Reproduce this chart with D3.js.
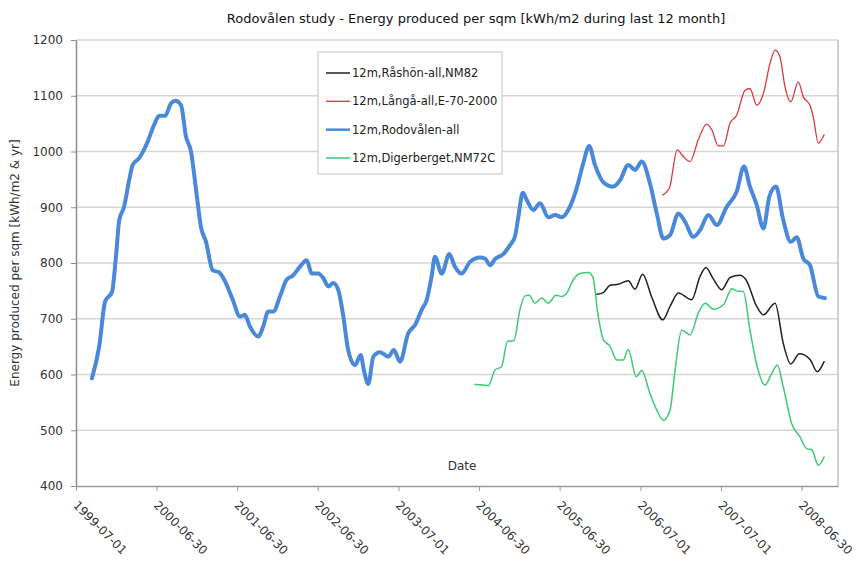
<!DOCTYPE html>
<html>
<head>
<meta charset="utf-8">
<script src="https://cdn.jsdelivr.net/npm/d3@7"></script>
<style>
  body { margin: 0; background: #fff; }
  svg { display: block; }
  text { font-family: "DejaVu Sans", Verdana, sans-serif; }
</style>
</head>
<body>
<svg id="chart" width="857" height="562"></svg>
<script>
// Rolling 12-month energy yield per square metre for four solar collector sites

const chartTitle = "Rodovålen study - Energy produced per sqm [kWh/m2 during last 12 month]";
const yTitle = "Energy produced per sqm [kWh/m2 & yr]";
const xTitle = "Date";

const xTickLabels = ["1999-07-01", "2000-06-30", "2001-06-30", "2002-06-30", "2003-07-01",
                     "2004-06-30", "2005-06-30", "2006-07-01", "2007-07-01", "2008-06-30"];
const yTickValues = [400, 500, 600, 700, 800, 900, 1000, 1100, 1200];

const seriesNames = ["12m,Råshön-all,NM82", "12m,Långå-all,E-70-2000",
                     "12m,Rodovålen-all", "12m,Digerberget,NM72C"];

// 12m,Råshön-all,NM82
const rashonDates = ["2005-12-15","2006-01-14","2006-02-13","2006-03-23","2006-05-07","2006-06-06",
  "2006-07-11","2006-08-21","2006-10-10","2006-11-12","2006-12-20","2007-02-18","2007-03-28",
  "2007-04-24","2007-05-25","2007-07-04","2007-08-11","2007-09-25","2007-10-22","2007-12-10",
  "2008-01-09","2008-03-02","2008-04-08","2008-05-12","2008-06-20","2008-08-07","2008-09-09","2008-10-10"];
const rashonValues = [744,747,760,762,768,753,780,739,698,722,746,734,776,792,773,752,774,778,770,
  722,707,728,656,619,637,627,605,623];

// 12m,Långå-all,E-70-2000
const langaDates = ["2006-10-10","2006-11-09","2006-12-15","2007-01-11","2007-02-11","2007-03-20",
  "2007-04-27","2007-05-20","2007-06-19","2007-07-12","2007-08-11","2007-09-10","2007-10-18",
  "2007-11-09","2007-12-10","2008-01-09","2008-02-08","2008-03-02","2008-03-24","2008-04-16",
  "2008-05-12","2008-06-15","2008-07-08","2008-08-07","2008-08-22","2008-09-14","2008-10-10"];
const langaValues = [922,934,1003,991,982,1021,1049,1039,1010,1010,1051,1065,1110,1113,1083,1104,
  1158,1182,1170,1116,1089,1125,1098,1083,1062,1015,1030];

// 12m,Rodovålen-all
const rodovalenDates = ["1999-09-11","1999-10-14","1999-11-10","1999-12-11","1999-12-29","2000-01-13",
  "2000-02-04","2000-02-27","2000-03-14","2000-04-12","2000-05-21","2000-06-19","2000-07-12","2000-08-08",
  "2000-09-03","2000-09-23","2000-10-19","2000-11-10","2000-12-03","2000-12-26","2001-01-17","2001-02-09",
  "2001-03-11","2001-04-10","2001-05-10","2001-06-10","2001-07-13","2001-08-04","2001-08-27","2001-10-04",
  "2001-10-26","2001-11-18","2001-12-11","2002-01-10","2002-02-09","2002-03-11","2002-04-10","2002-05-11",
  "2002-06-03","2002-07-02","2002-07-25","2002-08-17","2002-09-08","2002-10-01","2002-10-24","2002-11-15",
  "2002-12-16","2003-01-11","2003-01-25","2003-02-14","2003-03-09","2003-04-08","2003-05-16","2003-06-10",
  "2003-07-08","2003-08-14","2003-09-14","2003-10-14","2003-11-06","2003-11-28","2003-12-13","2004-01-13",
  "2004-02-16","2004-03-13","2004-04-12","2004-05-20","2004-07-04","2004-07-27","2004-08-19","2004-09-10",
  "2004-10-18","2004-11-17","2004-12-10","2004-12-25","2005-01-14","2005-02-01","2005-03-03","2005-04-02",
  "2005-05-10","2005-06-09","2005-07-10","2005-08-08","2005-09-15","2005-10-15","2005-11-11","2005-12-07",
  "2006-01-14","2006-02-28","2006-03-30","2006-05-07","2006-06-06","2006-07-07","2006-08-13","2006-09-13",
  "2006-10-13","2006-11-12","2006-12-20","2007-01-19","2007-02-26","2007-03-28","2007-05-05","2007-06-12",
  "2007-07-27","2007-09-10","2007-10-13","2007-11-09","2007-12-10","2008-01-09","2008-02-05","2008-03-06",
  "2008-04-08","2008-05-12","2008-06-08","2008-07-08","2008-08-07","2008-09-14","2008-10-14"];
const rodovalenValues = [593,650,731,748,811,877,901,949,976,988,1018,1048,1064,1064,1086,1091,1083,
  1027,1000,931,865,838,787,783,764,734,704,707,686,668,686,713,713,740,770,778,793,805,781,781,773,758,
  764,752,704,644,617,635,608,583,632,640,632,644,623,674,689,716,734,776,811,781,816,793,781,802,810,
  808,796,807,816,832,848,883,926,913,895,907,882,886,882,895,934,979,1010,976,945,937,948,976,967,982,
  943,889,844,850,889,874,847,859,886,868,901,928,973,937,904,862,919,937,877,838,846,808,796,740,737];

// 12m,Digerberget,NM72C
const digerbergetDates = ["2004-06-11","2004-07-19","2004-08-11","2004-09-10","2004-10-10","2004-11-05",
  "2004-12-05","2005-01-01","2005-01-24","2005-02-12","2005-03-10","2005-04-10","2005-05-10","2005-06-13",
  "2005-07-10","2005-08-01","2005-08-31","2005-09-30","2005-11-07","2005-11-27","2005-12-22","2006-01-14",
  "2006-02-13","2006-03-16","2006-04-14","2006-05-07","2006-06-12","2006-07-07","2006-08-13","2006-09-13",
  "2006-10-13","2006-11-12","2006-12-05","2007-01-04","2007-02-11","2007-03-20","2007-04-20","2007-05-28",
  "2007-07-12","2007-08-19","2007-09-10","2007-10-10","2007-11-09","2007-12-10","2008-01-16","2008-02-16",
  "2008-03-12","2008-04-08","2008-05-16","2008-06-23","2008-07-23","2008-08-15","2008-09-14","2008-10-10"];
const digerbergetValues = [582,581,580,608,614,659,661,716,741,742,728,737,728,742,740,746,770,781,783,
  775,704,662,651,626,626,645,596,607,566,536,518,536,608,680,671,710,728,717,725,754,750,749,680,617,
  581,602,617,578,512,488,467,465,437,452];

const seriesColors = ["#222222", "#d93a3a", "#4a88da", "#3ccb72"];
const seriesWidths = [1.5, 1.3, 4, 1.5];

const parseDate = d3.timeParse("%Y-%m-%d");
const series = [
  [rashonDates, rashonValues],
  [langaDates, langaValues],
  [rodovalenDates, rodovalenValues],
  [digerbergetDates, digerbergetValues]
].map(([dates, values], i) => ({
  name: seriesNames[i],
  color: seriesColors[i],
  width: seriesWidths[i],
  points: d3.zip(dates, values).map(([d, v]) => ({ date: parseDate(d), value: v }))
}));

const svg = d3.select("#chart");
const plot = { left: 76, right: 838, top: 40, bottom: 486 };

const x = d3.scaleTime()
  .domain([parseDate("1999-07-01"), parseDate("2008-12-12")])
  .range([plot.left, plot.right]);
const y = d3.scaleLinear()
  .domain([400, 1200])
  .range([plot.bottom, plot.top]);

// horizontal gridlines
svg.append("g")
  .selectAll("line")
  .data(yTickValues.filter(v => v > 400))
  .join("line")
  .attr("x1", plot.left).attr("x2", plot.right)
  .attr("y1", d => y(d)).attr("y2", d => y(d))
  .attr("stroke", "#d6d6d6")
  .attr("stroke-width", 1.5);

// plot frame (right side)
svg.append("line")
  .attr("x1", plot.right).attr("x2", plot.right)
  .attr("y1", plot.top).attr("y2", plot.bottom)
  .attr("stroke", "#b4b4b4").attr("stroke-width", 1.2);

// y axis
const yAxis = svg.append("g")
  .attr("transform", `translate(${plot.left},0)`)
  .call(d3.axisLeft(y).tickValues(yTickValues).tickFormat(d3.format("d"))
    .tickSize(5).tickPadding(8).tickSizeOuter(0));
yAxis.select(".domain").attr("stroke", "#8c8c8c").attr("stroke-width", 1.5);
yAxis.selectAll(".tick line").attr("stroke", "#8c8c8c");
yAxis.selectAll(".tick text").attr("font-size", 12).attr("fill", "#333")
  .style("font-family", '"DejaVu Sans", Verdana, sans-serif');

// x axis
const xTickDates = xTickLabels.map(parseDate);
const xAxis = svg.append("g")
  .attr("transform", `translate(0,${plot.bottom})`)
  .call(d3.axisBottom(x).tickValues(xTickDates).tickSize(5).tickSizeOuter(0)
    .tickFormat(d3.timeFormat("%Y-%m-%d")));
xAxis.select(".domain").attr("stroke", "#9a9a9a").attr("stroke-width", 1.5);
xAxis.selectAll(".tick line").attr("stroke", "#9a9a9a");
xAxis.selectAll(".tick text")
  .attr("font-size", 12).attr("fill", "#333")
  .style("font-family", '"DejaVu Sans", Verdana, sans-serif')
  .attr("text-anchor", "start")
  .attr("x", null).attr("y", null).attr("dy", null)
  .attr("transform", "translate(-4,20) rotate(45)");

// series lines
const line = d3.line()
  .x(d => x(d.date))
  .y(d => y(d.value))
  .curve(d3.curveMonotoneX);

svg.append("g")
  .selectAll("path")
  .data(series)
  .join("path")
  .attr("d", d => line(d.points))
  .attr("fill", "none")
  .attr("stroke", d => d.color)
  .attr("stroke-width", d => d.width)
  .attr("stroke-linejoin", "round")
  .attr("stroke-linecap", "round");

// titles
svg.append("text")
  .attr("x", 476).attr("y", 23)
  .attr("text-anchor", "middle")
  .attr("font-size", 13)
  .attr("fill", "#111")
  .text(chartTitle);

svg.append("text")
  .attr("transform", `translate(19,${(plot.top + plot.bottom) / 2}) rotate(-90)`)
  .attr("text-anchor", "middle")
  .attr("font-size", 12)
  .attr("fill", "#333")
  .text(yTitle);

svg.append("text")
  .attr("x", 462).attr("y", 470)
  .attr("text-anchor", "middle")
  .attr("font-size", 12)
  .attr("fill", "#333")
  .text(xTitle);

// legend
const legend = svg.append("g").attr("transform", "translate(318,52)");
legend.append("rect")
  .attr("width", 184).attr("height", 122)
  .attr("fill", "#fff")
  .attr("stroke", "#c4c4c4");
const rowY = d3.scalePoint().domain(seriesNames).range([21, 106]);
const rows = legend.selectAll("g.row")
  .data(series)
  .join("g")
  .attr("class", "row")
  .attr("transform", d => `translate(0,${rowY(d.name)})`);
rows.append("line")
  .attr("x1", 8).attr("x2", 32)
  .attr("stroke", d => d.color)
  .attr("stroke-width", d => Math.min(d.width, 2.5));
rows.append("text")
  .attr("x", 34).attr("dy", "0.35em")
  .attr("font-size", 11.5)
  .attr("fill", "#222")
  .text(d => d.name);
</script>
</body>
</html>
